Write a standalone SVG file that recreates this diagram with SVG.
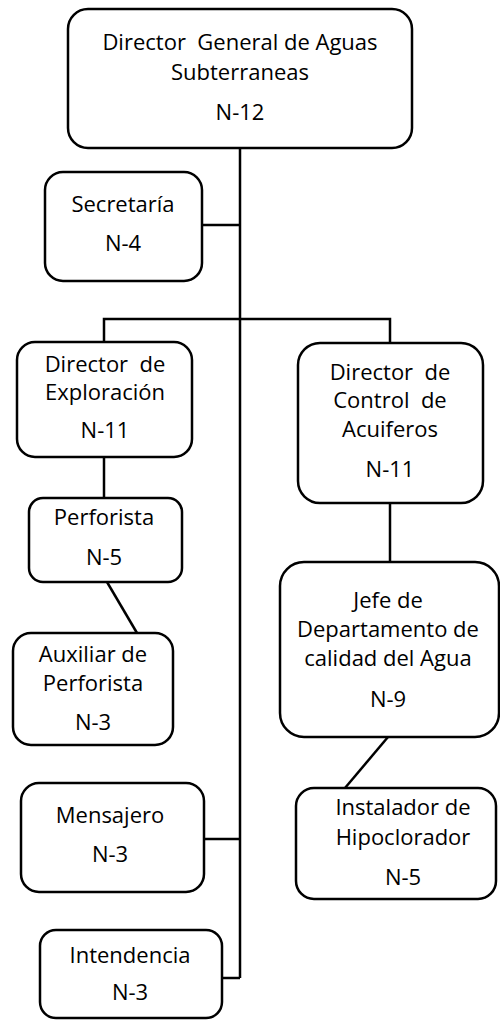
<svg xmlns="http://www.w3.org/2000/svg" width="500" height="1023" viewBox="0 0 500 1023">
<style>
.box{fill:#fff;stroke:#000;stroke-width:2.5}
.t{font-family:"Open Sans","Liberation Sans",sans-serif;font-size:22px;fill:#000;text-anchor:middle;white-space:pre}
.c{stroke:#000;stroke-width:2.5;fill:none}
</style>
<rect width="500" height="1023" fill="#fff"/>
<g id="connectors">
<line class="c" x1="240" y1="148" x2="240" y2="978"/>
<line class="c" x1="202" y1="225" x2="240" y2="225"/>
<polyline class="c" points="104,342 104,319 390,319 390,343"/>
<line class="c" x1="104" y1="457" x2="104" y2="498"/>
<line class="c" x1="107" y1="582" x2="137" y2="633" stroke-width="3"/>
<line class="c" x1="390" y1="503" x2="390" y2="562"/>
<line class="c" x1="388" y1="737" x2="345" y2="788" stroke-width="3"/>
<line class="c" x1="204" y1="839" x2="240" y2="839"/>
<line class="c" x1="222" y1="978" x2="240" y2="978"/>
</g>
<g id="n-director-general">
<rect class="box" x="68" y="9" width="344" height="139" rx="20"/>
<text class="t" x="240" y="50" xml:space="preserve">Director  General de Aguas</text>
<text class="t" x="240" y="80">Subterraneas</text>
<text class="t" x="240" y="120">N-12</text>
</g>
<g id="n-secretaria">
<rect class="box" x="45" y="172" width="157" height="109" rx="18"/>
<text class="t" x="123" y="212">Secretaría</text>
<text class="t" x="123" y="251">N-4</text>
</g>
<g id="n-dir-exploracion">
<rect class="box" x="17" y="342" width="175" height="115" rx="18"/>
<text class="t" x="105" y="372" xml:space="preserve">Director  de</text>
<text class="t" x="105" y="400">Exploración</text>
<text class="t" x="105" y="438">N-11</text>
</g>
<g id="n-dir-control">
<rect class="box" x="298" y="343" width="185" height="160" rx="22"/>
<text class="t" x="390" y="380" xml:space="preserve">Director  de</text>
<text class="t" x="390" y="408" xml:space="preserve">Control  de</text>
<text class="t" x="390" y="437">Acuiferos</text>
<text class="t" x="390" y="477">N-11</text>
</g>
<g id="n-perforista">
<rect class="box" x="29" y="498" width="153" height="84" rx="14"/>
<text class="t" x="104" y="525">Perforista</text>
<text class="t" x="104" y="565">N-5</text>
</g>
<g id="n-auxiliar">
<rect class="box" x="13" y="633" width="160" height="112" rx="18"/>
<text class="t" x="93" y="662">Auxiliar de</text>
<text class="t" x="93" y="691">Perforista</text>
<text class="t" x="93" y="730">N-3</text>
</g>
<g id="n-jefe">
<rect class="box" x="280" y="562" width="219" height="175" rx="24"/>
<text class="t" x="388" y="608">Jefe de</text>
<text class="t" x="388" y="637">Departamento de</text>
<text class="t" x="388" y="666">calidad del Agua</text>
<text class="t" x="388" y="707">N-9</text>
</g>
<g id="n-instalador">
<rect class="box" x="296" y="788" width="200" height="111" rx="18"/>
<text class="t" x="403" y="815">Instalador de</text>
<text class="t" x="403" y="845">Hipoclorador</text>
<text class="t" x="403" y="885">N-5</text>
</g>
<g id="n-mensajero">
<rect class="box" x="21" y="783" width="183" height="109" rx="18"/>
<text class="t" x="110" y="823">Mensajero</text>
<text class="t" x="110" y="862">N-3</text>
</g>
<g id="n-intendencia">
<rect class="box" x="40" y="930" width="182" height="88" rx="16"/>
<text class="t" x="130" y="963">Intendencia</text>
<text class="t" x="130" y="1000">N-3</text>
</g>
</svg>
